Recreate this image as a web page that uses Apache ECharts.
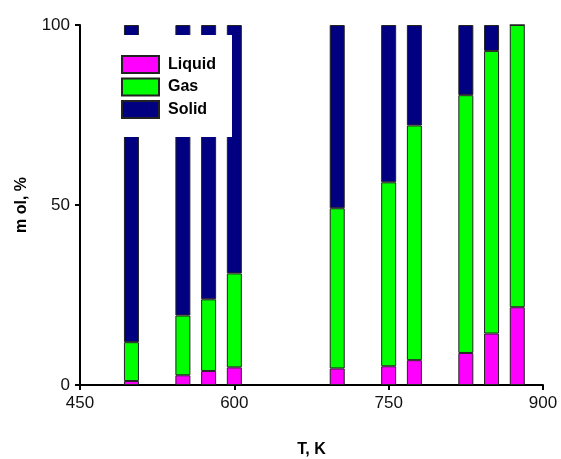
<!DOCTYPE html>
<html>
<head>
<meta charset="utf-8">
<script src="https://cdn.jsdelivr.net/npm/echarts@6/dist/echarts.min.js"></script>
<style>
  html, body { margin: 0; padding: 0; background: #fff; }
  #chart-box { width: 561px; height: 459px; }
</style>
</head>
<body>
<div id="chart-box"></div>
<script>
// temperatures (K) and mol % of each phase
const temps = [500, 550, 575, 600, 700, 750, 775, 825, 850, 875]
const liquid = [1.1, 2.7, 3.9, 4.9, 4.6, 5.2, 6.9, 8.9, 14.3, 21.6]
const gas = [10.8, 16.6, 19.9, 26.1, 44.5, 51.1, 65.2, 71.6, 78.5, 78.4]
const solid = [88.1, 80.7, 76.2, 69.0, 50.9, 43.7, 27.9, 19.5, 7.2, 0]
// x axis slots every 25 K, labelled at 450 / 600 / 750 / 900
const xSlots = [450, 475, 500, 525, 550, 575, 600, 625, 650, 675, 700, 725, 750, 775, 800, 825, 850, 875, 900]
const yTicks = [0, 50, 100]

const font = 'Arial, "Liberation Sans", sans-serif'

// put each value on its temperature slot, empty elsewhere
const onSlots = (vals) => xSlots.map(t => {
    const i = temps.indexOf(t)
    return i < 0 ? '-' : vals[i]
})

const makeSeries = (name, color, vals) => ({
    name: name,
    type: 'bar',
    stack: 'total',
    barWidth: 15,
    data: onSlots(vals),
    itemStyle: {color: color, borderColor: '#222', borderWidth: 1}
})

let chart = echarts.init(document.getElementById('chart-box'))
let option = {
    animation: false,
    backgroundColor: '#fff',
    grid: {left: 80, right: 18, top: 25, bottom: 74, outerBoundsMode: 'none'},
    legend: {
        left: 112,
        top: 35,
        orient: 'vertical',
        backgroundColor: '#fff',
        padding: [20, 16, 18, 9],
        itemWidth: 37,
        itemHeight: 17,
        itemGap: 3.5,
        icon: 'rect',
        textStyle: {fontFamily: font, fontSize: 16, lineHeight: 17, fontWeight: 'bold', color: '#000', padding: [0, 0, 0, 4]},
        data: ['Liquid', 'Gas', 'Solid']
    },
    xAxis: {
        type: 'category',
        data: xSlots,
        boundaryGap: false,
        name: 'T, K',
        nameLocation: 'middle',
        nameGap: 57,
        nameTextStyle: {fontFamily: font, fontSize: 16, fontWeight: 'bold', color: '#000'},
        axisLine: {lineStyle: {color: '#000', width: 2}},
        axisTick: {show: true, interval: 5, length: 5, lineStyle: {color: '#000', width: 2}},
        axisLabel: {interval: 5, fontFamily: font, fontSize: 17, color: '#111', margin: 10},
        splitLine: {show: false}
    },
    yAxis: {
        type: 'value',
        min: yTicks[0],
        max: yTicks[yTicks.length - 1],
        interval: 50,
        name: 'm ol, %',
        nameLocation: 'middle',
        nameGap: 50,
        nameTextStyle: {fontFamily: font, fontSize: 16, fontWeight: 'bold', color: '#000'},
        axisLine: {show: true, lineStyle: {color: '#000', width: 2}},
        axisTick: {show: true, length: 5, lineStyle: {color: '#000', width: 2}},
        axisLabel: {fontFamily: font, fontSize: 17, color: '#111', margin: 10},
        splitLine: {show: false}
    },
    series: [
        makeSeries('Liquid', '#ff00ff', liquid),
        makeSeries('Gas', '#00ff00', gas),
        makeSeries('Solid', '#000080', solid)
    ]
}
chart.setOption(option)
</script>
</body>
</html>
